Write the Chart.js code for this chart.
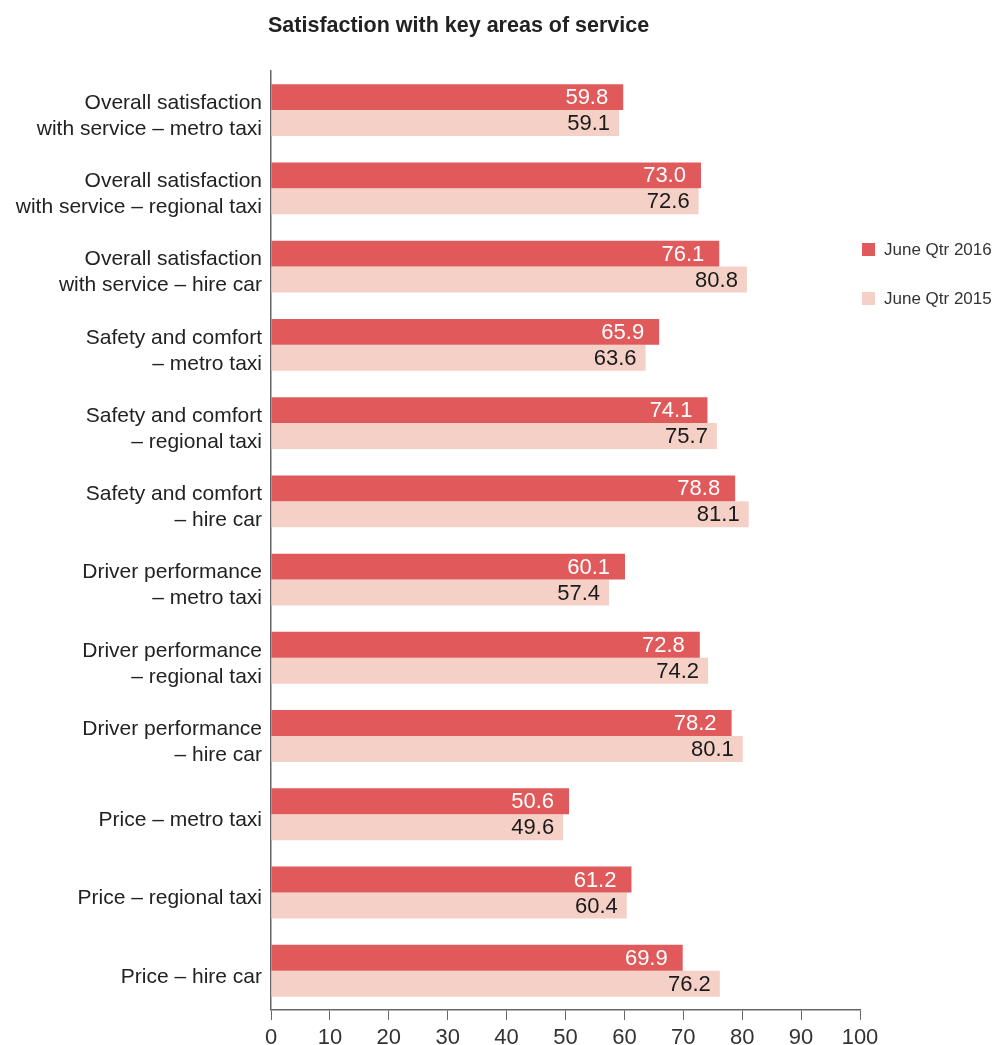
<!DOCTYPE html>
<html>
<head>
<meta charset="utf-8">
<script src="https://cdn.jsdelivr.net/npm/chart.js@4.4.1/dist/chart.umd.min.js"></script>
<style>
  html, body { margin: 0; padding: 0; background: #fff; }
  #wrap { width: 995px; height: 1045px; position: relative; }
</style>
</head>
<body>
<div id="wrap"><canvas id="chart"></canvas></div>
<script>
const categories = [
    ['Overall satisfaction', 'with service \u2013 metro taxi'],
    ['Overall satisfaction', 'with service \u2013 regional taxi'],
    ['Overall satisfaction', 'with service \u2013 hire car'],
    ['Safety and comfort', '\u2013 metro taxi'],
    ['Safety and comfort', '\u2013 regional taxi'],
    ['Safety and comfort', '\u2013 hire car'],
    ['Driver performance', '\u2013 metro taxi'],
    ['Driver performance', '\u2013 regional taxi'],
    ['Driver performance', '\u2013 hire car'],
    'Price \u2013 metro taxi',
    'Price \u2013 regional taxi',
    'Price \u2013 hire car'
];
const june2016 = [59.8, 73.0, 76.1, 65.9, 74.1, 78.8, 60.1, 72.8, 78.2, 50.6, 61.2, 69.9];
const june2015 = [59.1, 72.6, 80.8, 63.6, 75.7, 81.1, 57.4, 74.2, 80.1, 49.6, 60.4, 76.2];
const xTicks = [0, 10, 20, 30, 40, 50, 60, 70, 80, 90, 100];

const FONT = '"Liberation Sans", Arial, Helvetica, sans-serif';
const DARK = '#e05a5b';
const LIGHT = '#f5d0c7';

// value labels inside the bar ends, title, and legend on the right
const extras = {
    id: 'extras',
    afterDatasetsDraw(chart) {
        const ctx = chart.ctx;
        ctx.save();
        ctx.font = '22px ' + FONT;
        ctx.textAlign = 'right';
        ctx.textBaseline = 'middle';
        chart.data.datasets.forEach((ds, i) => {
            const meta = chart.getDatasetMeta(i);
            ctx.fillStyle = i === 0 ? '#ffffff' : '#1a1a1a';
            const inset = i === 0 ? 15 : 9;
            meta.data.forEach((bar, j) => {
                ctx.fillText(ds.data[j].toFixed(1), bar.x - inset, bar.y + 1);
            });
        });

        ctx.font = 'bold 21.5px ' + FONT;
        ctx.textAlign = 'left';
        ctx.fillStyle = '#222222';
        ctx.fillText('Satisfaction with key areas of service', chart.chartArea.left - 3, 26);

        ctx.font = '17px ' + FONT;
        const legendY = [249, 298];
        chart.data.datasets.forEach((ds, i) => {
            ctx.fillStyle = ds.backgroundColor;
            ctx.fillRect(862, legendY[i] - 6, 13, 13);
            ctx.fillStyle = '#333333';
            ctx.fillText(ds.label, 884, legendY[i] + 1);
        });
        ctx.restore();
    }
};

new Chart(document.getElementById('chart'), {
    type: 'bar',
    data: {
        labels: categories,
        datasets: [
            { label: 'June Qtr 2016', data: june2016, backgroundColor: DARK },
            { label: 'June Qtr 2015', data: june2015, backgroundColor: LIGHT }
        ]
    },
    options: {
        indexAxis: 'y',
        responsive: true,
        maintainAspectRatio: false,
        animation: false,
        layout: { padding: { top: 71, right: 135, left: 0, bottom: 0 } },
        datasets: { bar: { barPercentage: 1, categoryPercentage: 0.664 } },
        plugins: {
            legend: { display: false },
            title: { display: false },
            tooltip: { enabled: false }
        },
        scales: {
            x: {
                min: 0,
                max: 100,
                afterBuildTicks: (scale) => { scale.ticks = xTicks.map(v => ({ value: v })); },
                afterFit: (scale) => { scale.height = 35; },
                grid: { display: true, drawOnChartArea: false, drawTicks: true, tickLength: 10, color: '#666666' },
                border: { display: true, color: '#666666', width: 1.5 },
                ticks: { color: '#333333', font: { family: FONT, size: 22 }, padding: 5, maxRotation: 0 }
            },
            y: {
                afterFit: (scale) => { scale.width = 271; },
                grid: { display: false, drawTicks: false },
                border: { display: true, color: '#666666', width: 1.5 },
                ticks: { color: '#222222', font: { family: FONT, size: 21, lineHeight: 1.24 }, padding: 9, labelOffset: 6 }
            }
        }
    },
    plugins: [extras]
});
</script>
</body>
</html>
